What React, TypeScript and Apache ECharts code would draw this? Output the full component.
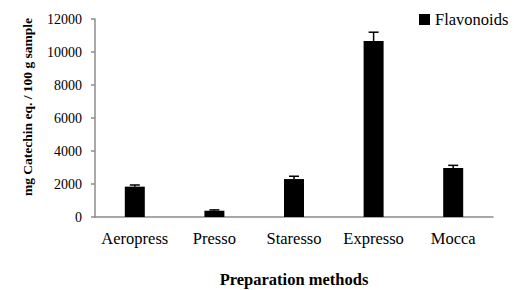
import React, { useEffect, useRef } from "react";
import * as echarts from "echarts";

const categories = ["Aeropress", "Presso", "Staresso", "Expresso", "Mocca"];
const flavonoids = [1840, 380, 2300, 10670, 2970];
const errors = [100, 50, 170, 530, 160];
const yMin = 0;
const yMax = 12000;
const yInterval = 2000;

export default function App() {
  const ref = useRef<HTMLDivElement>(null);
  useEffect(() => {
    if (!ref.current) return;
    const chart = echarts.init(ref.current, null, { renderer: "svg" });
    const font = "Liberation Serif";
    chart.setOption({
      animation: false,
      backgroundColor: "#ffffff",
      textStyle: { fontFamily: font, color: "#000" },
      grid: { left: 95, right: 21, top: 19, bottom: 73, containLabel: false, outerBoundsMode: "none" },
      legend: {
        data: [{ name: "Flavonoids", icon: "rect" }],
        left: 414,
        top: 6,
        itemWidth: 11,
        itemHeight: 11,
        textStyle: { fontFamily: font, fontSize: 16.5, color: "#000" },
      },
      graphic: [
        {
          type: "text",
          x: 27,
          y: 107,
          rotation: Math.PI / 2,
          style: {
            text: "mg Catechin eq. / 100 g sample",
            fontFamily: font,
            fontSize: 13.5,
            fontWeight: "bold",
            fill: "#000",
            align: "center",
            verticalAlign: "middle",
          },
        },
      ],
      xAxis: {
        type: "category",
        data: categories,
        name: "Preparation methods",
        nameLocation: "middle",
        nameGap: 54,
        nameTextStyle: { fontFamily: font, fontSize: 16.5, fontWeight: "bold", color: "#000", verticalAlign: "top" },
        axisLine: { lineStyle: { color: "#8c8c8c", width: 1.5 } },
        axisTick: { show: false },
        axisLabel: { fontFamily: font, fontSize: 16.5, color: "#000", margin: 13, interval: 0 },
      },
      yAxis: {
        type: "value",
        min: yMin,
        max: yMax,
        interval: yInterval,
        axisLine: { show: true, lineStyle: { color: "#8c8c8c", width: 1.5 } },
        axisTick: { show: true, length: 4, lineStyle: { color: "#8c8c8c", width: 1.5 } },
        splitLine: { show: false },
        axisLabel: {
          fontFamily: font,
          fontSize: 14,
          color: "#000",
          margin: 13,
          formatter: (v: number) => String(v),
        },
      },
      series: [
        {
          name: "Flavonoids",
          type: "bar",
          data: flavonoids,
          barWidth: 20,
          itemStyle: { color: "#000" },
          z: 2,
        },
        {
          name: "error",
          type: "custom",
          z: 3,
          data: flavonoids.map((v, i) => [i, v, v + errors[i]]),
          renderItem: (params: any, api: any) => {
            const x = api.value(0);
            const lo = api.coord([x, api.value(1)]);
            const hi = api.coord([x, api.value(2)]);
            const half = 5;
            return {
              type: "group",
              children: [
                {
                  type: "line",
                  shape: { x1: lo[0], y1: lo[1], x2: hi[0], y2: hi[1] },
                  style: { stroke: "#000", lineWidth: 1.5 },
                },
                {
                  type: "line",
                  shape: { x1: hi[0] - half, y1: hi[1], x2: hi[0] + half, y2: hi[1] },
                  style: { stroke: "#000", lineWidth: 1.5 },
                },
              ],
            };
          },
        },
      ],
    });
    return () => chart.dispose();
  }, []);
  return (
    <div
      ref={ref}
      style={{ position: "absolute", left: 0, top: 0, width: 514, height: 290 }}
    />
  );
}
